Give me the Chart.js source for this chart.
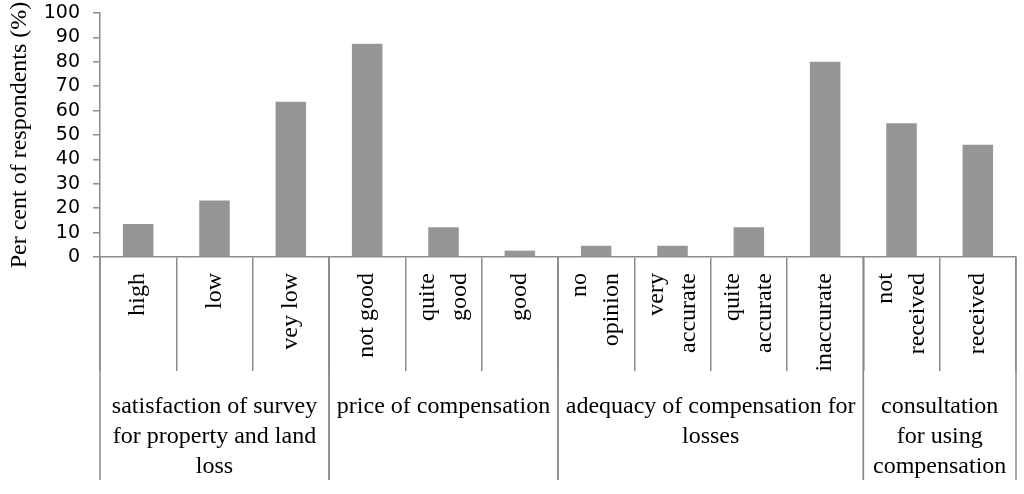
<!DOCTYPE html>
<html>
<head>
<meta charset="utf-8">
<script src="https://cdn.jsdelivr.net/npm/chart.js@4.4.1/dist/chart.umd.min.js"></script>
<style>
    html, body { margin: 0; padding: 0; background: #fff; }
    #wrap { width: 1024px; height: 494px; position: relative; }
</style>
</head>
<body>
<div id="wrap"><canvas id="grafico"></canvas></div>
<script>
// datos
var categorias = [
    ['high'], ['low'], ['vey low'],
    ['not good'], ['quite', 'good'], ['good'],
    ['no', 'opinion'], ['very', 'accurate'], ['quite', 'accurate'], ['inaccurate'],
    ['not', 'received'], ['received']
];
var valores = [13.5, 23.2, 63.6, 87.4, 12.2, 2.6, 4.6, 4.6, 12.2, 80.0, 54.8, 46.0];
var grupos = [
    ['satisfaction of survey', 'for property and land', 'loss'],
    ['price of compensation'],
    ['adequacy of compensation for', 'losses'],
    ['consultation', 'for using', 'compensation']
];
var tamGrupos = [3, 3, 4, 2];
var ticksY = [0, 10, 20, 30, 40, 50, 60, 70, 80, 90, 100];

(function () {
    var gris = '#8c8c8c';
    var serif = '"Liberation Serif", "Times New Roman", serif';

    function limite(esc, i) {
        // borde entre la categoria i-1 y la i
        var n = esc.ticks.length;
        if (i <= 0) return esc.left;
        if (i >= n) return esc.right;
        return (esc.getPixelForTick(i - 1) + esc.getPixelForTick(i)) / 2;
    }

    var pluginGrupos = {
        id: 'grupos',
        afterDraw: function (chart) {
            var esc = chart.scales.x;
            var ctx = chart.ctx;
            var y0 = chart.chartArea.bottom;
            ctx.save();
            ctx.fillStyle = '#000';
            ctx.font = '24px ' + serif;

            // etiquetas de categoria, giradas 90 grados
            var lh = 32;
            ctx.textAlign = 'right';
            ctx.textBaseline = 'middle';
            for (var i = 0; i < categorias.length; i++) {
                var lin = categorias[i];
                ctx.save();
                ctx.translate(esc.getPixelForTick(i), y0 + 16);
                ctx.rotate(-Math.PI / 2);
                for (var j = 0; j < lin.length; j++) {
                    ctx.fillText(lin[j], 0, (j - (lin.length - 1) / 2) * lh);
                }
                ctx.restore();
            }

            // grupos
            ctx.strokeStyle = gris;
            ctx.lineWidth = 1.5;
            ctx.textAlign = 'center';
            ctx.textBaseline = 'middle';
            var inicio = 0;
            for (var g = 0; g < tamGrupos.length; g++) {
                var xa = limite(esc, inicio);
                var xb = limite(esc, inicio + tamGrupos[g]);
                ctx.beginPath();
                ctx.moveTo(xa, y0);
                ctx.lineTo(xa, y0 + 223);
                ctx.moveTo(xb, y0);
                ctx.lineTo(xb, y0 + 223);
                ctx.stroke();
                var lineas = grupos[g];
                for (var k = 0; k < lineas.length; k++) {
                    ctx.fillText(lineas[k], (xa + xb) / 2, y0 + 150 + k * 30);
                }
                inicio += tamGrupos[g];
            }
            ctx.restore();
        }
    };

    new Chart(document.getElementById('grafico'), {
        type: 'bar',
        data: {
            labels: categorias,
            datasets: [{
                data: valores,
                backgroundColor: '#969696',
                borderWidth: 0,
                barPercentage: 0.8,
                categoryPercentage: 0.5
            }]
        },
        options: {
            responsive: true,
            maintainAspectRatio: false,
            animation: false,
            layout: { padding: { top: 13, right: 8, left: 0, bottom: 0 } },
            plugins: {
                legend: { display: false },
                tooltip: { enabled: false }
            },
            scales: {
                x: {
                    grid: {
                        display: true,
                        offset: true,
                        drawOnChartArea: false,
                        drawTicks: true,
                        tickLength: 114,
                        color: gris,
                        lineWidth: 1.5
                    },
                    border: { display: true, color: gris, width: 1.5 },
                    ticks: { display: false },
                    afterFit: function (esc) { esc.height = 237; }
                },
                y: {
                    min: 0,
                    max: 100,
                    afterBuildTicks: function (esc) {
                        esc.ticks = ticksY.map(function (v) { return { value: v }; });
                    },
                    grid: {
                        display: true,
                        drawOnChartArea: false,
                        drawTicks: true,
                        tickLength: 7,
                        color: gris,
                        lineWidth: 1.5
                    },
                    border: { display: true, color: gris, width: 1.5 },
                    ticks: {
                        autoSkip: false,
                        padding: 13,
                        color: '#000',
                        font: { family: '"DejaVu Sans", sans-serif', size: 19, lineHeight: 1 }
                    },
                    title: {
                        display: true,
                        text: 'Per cent of respondents (%)',
                        color: '#000',
                        padding: { top: 5, bottom: 0 },
                        font: { family: serif, size: 24 }
                    },
                    afterFit: function (esc) {
                        esc.width = 100;
                        esc.paddingTop = 0;
                        esc.paddingBottom = 0;
                    }
                }
            }
        },
        plugins: [pluginGrupos]
    });
})();
</script>
</body>
</html>
